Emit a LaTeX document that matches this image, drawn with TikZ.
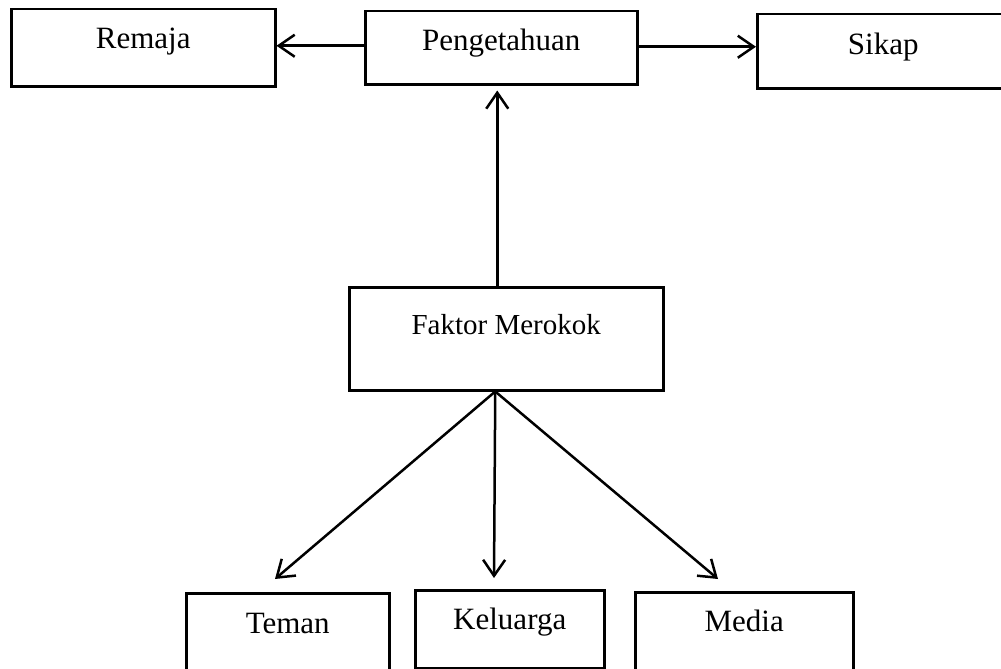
\documentclass[tikz,border=0pt]{standalone}
\usepackage{fontspec}
\setmainfont{Liberation Serif}
\usetikzlibrary{arrows.meta}
\begin{document}
\begin{tikzpicture}[x=1pt,y=-1pt,
  box/.style={draw, line width=2.5pt, inner sep=0pt, anchor=north west,
    font=\fontsize{31}{37}\selectfont},
  conn/.style={line width=2.5pt, -{Straight Barb[length=16pt,width=22pt,line width=2.5pt]}}]
\useasboundingbox (0,0) rectangle (1001,669);
\node[box, minimum width=264pt, text height=39pt, text depth=38pt] (remaja) at (10,8) {Remaja};
\node[box, minimum width=272pt, text height=39pt, text depth=34pt] (peng) at (364,10) {Pengetahuan};
\node[box, minimum width=252pt, text height=40pt, text depth=34pt] (sikap) at (756,13) {Sikap};
\node[box, minimum width=314pt, text height=47pt, text depth=56pt, font=\fontsize{29}{35}\selectfont] (faktor) at (348,286) {Faktor Merokok};
\node[box, minimum width=203pt, text height=40pt, text depth=40pt] (teman) at (185,592) {Teman};
\node[box, minimum width=189pt, text height=39pt, text depth=39pt] (keluarga) at (414,589) {Keluarga};
\node[box, minimum width=218pt, text height=39pt, text depth=42pt] (media) at (634,591) {Media};
\coordinate (tT) at (275,579);
\coordinate (tK) at (494,578);
\coordinate (tM) at (718,579);
\draw[conn] ([yshift=2pt]peng.west) -- ([yshift=2pt]peng.west -| remaja.east);
\draw[conn] ([yshift=1pt]peng.east) -- ([yshift=1pt]peng.east -| sikap.west);
\draw[conn, shorten >=5pt] ([xshift=-9pt]faktor.north) -- ([xshift=-9pt]faktor.north |- peng.south);
\draw[conn] ([xshift=-11pt]faktor.south) -- (tT);
\draw[conn] ([xshift=-11pt]faktor.south) -- (tK);
\draw[conn] ([xshift=-11pt]faktor.south) -- (tM);
\end{tikzpicture}
\end{document}
